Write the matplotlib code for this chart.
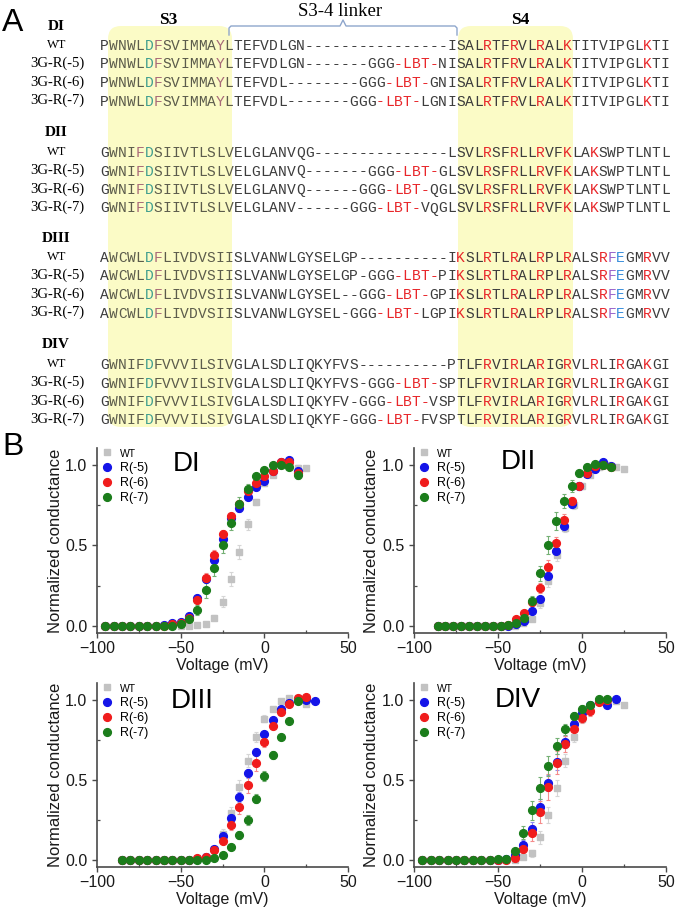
import matplotlib
matplotlib.use('Agg')
import matplotlib.pyplot as plt
from matplotlib.patches import FancyBboxPatch
from matplotlib.lines import Line2D
from matplotlib.ticker import MultipleLocator, FixedLocator, FormatStrFormatter

# ---------------- Panel A data ----------------
domains = ['DI', 'DII', 'DIII', 'DIV']
row_labels = ['WT', '3G-R(-5)', '3G-R(-6)', '3G-R(-7)']

seq_DI = [
    "PWNWLDFSVIMMAYLTEFVDLGN" + "-" * 16 + "ISALRTFRVLRALKTITVIPGLKTI",
    "PWNWLDFSVIMMAYLTEFVDLGN" + "-" * 7 + "GGG-LBT-NI" + "SALRTFRVLRALKTITVIPGLKTI",
    "PWNWLDFSVIMMAYLTEFVDL" + "-" * 8 + "GGG-LBT-GNI" + "SALRTFRVLRALKTITVIPGLKTI",
    "PWNWLDFSVIMMAYLTEFVDL" + "-" * 7 + "GGG-LBT-LGNI" + "SALRTFRVLRALKTITVIPGLKTI",
]
seq_DII = [
    "GWNIFDSIIVTLSLVELGLANVQG" + "-" * 15 + "LSVLRSFRLLRVFKLAKSWPTLNTL",
    "GWNIFDSIIVTLSLVELGLANVQ" + "-" * 7 + "GGG-LBT-G" + "LSVLRSFRLLRVFKLAKSWPTLNTL",
    "GWNIFDSIIVTLSLVELGLANVQ" + "-" * 6 + "GGG-LBT-QG" + "LSVLRSFRLLRVFKLAKSWPTLNTL",
    "GWNIFDSIIVTLSLVELGLANV" + "-" * 6 + "GGG-LBT-VQG" + "LSVLRSFRLLRVFKLAKSWPTLNTL",
]
seq_DIII = [
    "AWCWLDFLIVDVSIISLVANWLGYSELGP" + "-" * 10 + "IKSLRTLRALRPLRALSRFEGMRVV",
    "AWCWLDFLIVDVSIISLVANWLGYSELGP" + "-GGG-LBT-PI" + "KSLRTLRALRPLRALSRFEGMRVV",
    "AWCWLDFLIVDVSIISLVANWLGYSEL" + "--GGG-LBT-GPI" + "KSLRTLRALRPLRALSRFEGMRVV",
    "AWCWLDFLIVDVSIISLVANWLGYSEL" + "-GGG-LBT-LGPI" + "KSLRTLRALRPLRALSRFEGMRVV",
]
seq_DIV = [
    "GWNIFDFVVVILSIVGLALSDLIQKYFVS" + "-" * 10 + "PTLFRVIRLARIGRVLRLIRGAKGI",
    "GWNIFDFVVVILSIVGLALSDLIQKYFVS" + "-GGG-LBT-S" + "PTLFRVIRLARIGRVLRLIRGAKGI",
    "GWNIFDFVVVILSIVGLALSDLIQKYFV" + "-GGG-LBT-VS" + "PTLFRVIRLARIGRVLRLIRGAKGI",
    "GWNIFDFVVVILSIVGLALSDLIQKYF" + "-GGG-LBT-FVS" + "PTLFRVIRLARIGRVLRLIRGAKGI",
]
# highlighted residues (index -> kind)
marks_DI = {5: 'acid', 6: 'arom', 13: 'arom'}
marks_DII = {4: 'arom', 5: 'acid'}
marks_DIII = {5: 'acid', 6: 'arom', 57: 'purple', 58: 'blue'}
marks_DIV = {5: 'acid'}

# ---------------- Panel B data ----------------
# DI
V_DI = [-95, -90, -85, -80, -75, -70, -65, -60, -55, -50, -45, -40, -35, -30, -25,
        -20, -15, -10, -5, 0, 5, 10, 15, 20, 25]
wt_DI = [0, 0, 0, 0, 0, 0, 0, 0, 0, 0, 0.0, 0.005, 0.01, 0.05, 0.15, 0.29, 0.46, 0.63,
         0.77, 0.89, 0.94, 1.0, 1.01, 0.98, 0.98]
wt_DI_e = [0, 0, 0, 0, 0, 0, 0, 0, 0, 0, 0.005, 0.01, 0.01, 0.015, 0.035, 0.045, 0.045,
           0.035, 0.02, 0.02, 0.015, 0.01, 0.01, 0.02, 0.01]
r5_DI = [0, 0, 0, 0, 0, 0, 0, 0.005, 0.015, 0.025, 0.06, 0.17, 0.29, 0.41, 0.54, 0.67,
         0.73, 0.80, 0.865, 0.90, 0.96, 1.02, 1.03, 0.96]
r5_DI_e = [0, 0, 0, 0, 0, 0, 0, 0.005, 0.005, 0.01, 0.015, 0.02, 0.02, 0.02, 0.02, 0.02,
           0.02, 0.02, 0.02, 0.02, 0.015, 0.01, 0.01, 0.04]
r6_DI = [0, 0, 0, 0, 0, 0, 0, 0, 0.01, 0.02, 0.05, 0.16, 0.30, 0.44, 0.57, 0.68, 0.76,
         0.84, 0.89, 0.93, 0.96, 1.02, 1.02, 0.95]
r6_DI_e = [0, 0, 0, 0, 0, 0, 0, 0, 0.005, 0.01, 0.01, 0.02, 0.025, 0.03, 0.025, 0.02,
           0.02, 0.02, 0.02, 0.02, 0.015, 0.01, 0.01, 0.03]
r7_DI = [0, 0, 0, 0, 0, 0, 0, 0, 0, 0.01, 0.04, 0.10, 0.22, 0.36, 0.50, 0.64, 0.76,
         0.85, 0.93, 0.97, 1.00, 1.00, 0.99, 0.94]
r7_DI_e = [0, 0, 0, 0, 0, 0, 0, 0, 0, 0.005, 0.015, 0.03, 0.045, 0.05, 0.05, 0.045,
           0.04, 0.03, 0.02, 0.015, 0.01, 0.01, 0.01, 0.03]

# DII
Vwt_DII = [-85, -80, -75, -70, -65, -60, -55, -50, -45, -40, -35, -30, -25, -20, -15,
           -10, -5, 0, 5, 10, 15, 20, 25]
wt_DII = [0, 0, 0, 0, 0, 0, 0, 0, 0, 0, 0.02, 0.045, 0.14, 0.28, 0.44, 0.61, 0.75,
          0.87, 0.94, 0.985, 1.0, 0.99, 0.975]
wt_DII_e = [0, 0, 0, 0, 0, 0, 0, 0, 0, 0.005, 0.01, 0.015, 0.03, 0.04, 0.04, 0.03,
            0.025, 0.02, 0.015, 0.01, 0.01, 0.01, 0.01]
Vm_DII = [-86, -81.5, -76.5, -72, -67.5, -62.5, -58, -53, -48.5, -44, -39, -34.5, -30,
          -25, -20, -15.5, -11, -6, -1.5, 3, 8, 12.5, 17.5]
r5_DII = [0, 0, 0, 0, 0, 0, 0, 0, 0, 0.0, 0.009, 0.031, 0.09, 0.168, 0.307, 0.465,
          0.619, 0.756, 0.87, 0.945, 0.975, 1.016, 0.996]
r5_DII_e = [0, 0, 0, 0, 0, 0, 0, 0, 0, 0.005, 0.005, 0.01, 0.015, 0.02, 0.025, 0.03,
            0.03, 0.025, 0.025, 0.02, 0.015, 0.01, 0.01]
r6_DII = [0, 0, 0, 0, 0, 0, 0, 0, 0, 0.005, 0.045, 0.082, 0.148, 0.236, 0.367, 0.513,
          0.656, 0.773, 0.869, 0.947, 0.992, 1.0, 0.99]
r6_DII_e = [0, 0, 0, 0, 0, 0, 0, 0, 0, 0.005, 0.01, 0.015, 0.02, 0.03, 0.04, 0.04,
            0.04, 0.03, 0.02, 0.02, 0.01, 0.01, 0.01]
r7_DII = [0, 0, 0, 0, 0, 0, 0, 0, 0, 0.005, 0.02, 0.05, 0.154, 0.326, 0.50, 0.65,
          0.777, 0.869, 0.947, 0.988, 1.004, 1.0, 0.985]
r7_DII_e = [0, 0, 0, 0, 0, 0, 0, 0, 0, 0.005, 0.01, 0.015, 0.03, 0.045, 0.055, 0.055,
            0.045, 0.035, 0.02, 0.015, 0.01, 0.01, 0.01]

# DIII
V_DIII = [-85, -80, -75, -70, -65, -60, -55, -50, -45, -40, -35, -30, -25, -20, -15,
          -10, -5, 0, 5, 10, 15, 20, 25, 30]
wt_DIII = [0, 0, 0, 0, 0, 0, 0, 0, 0, 0, 0.02, 0.07, 0.16, 0.29, 0.458, 0.62, 0.768,
           0.882, 0.942, 0.99, 1.01, 1.01, 0.975]
wt_DIII_e = [0, 0, 0, 0, 0, 0, 0, 0, 0, 0, 0.01, 0.015, 0.03, 0.04, 0.04, 0.04, 0.03,
             0.02, 0.015, 0.01, 0.01, 0.01, 0.01]
r5_DIII = [0, 0, 0, 0, 0, 0, 0, 0, 0, 0.006, 0.02, 0.068, 0.151, 0.26, 0.393, 0.54,
           0.673, 0.787, 0.876, 0.942, 0.98, 1.0, 1.0, 0.99]
r5_DIII_e = [0, 0, 0, 0, 0, 0, 0, 0, 0, 0.005, 0.01, 0.015, 0.02, 0.025, 0.03, 0.03,
             0.025, 0.02, 0.015, 0.01, 0.01, 0.01, 0.01, 0.01]
r6_DIII = [0, 0, 0, 0, 0, 0, 0, 0, 0, 0.01, 0.02, 0.062, 0.12, 0.217, 0.333, 0.468,
           0.607, 0.737, 0.838, 0.921, 0.975, 1.01, 1.015]
r6_DIII_e = [0, 0, 0, 0, 0, 0, 0, 0, 0, 0.005, 0.01, 0.015, 0.02, 0.03, 0.045, 0.05,
             0.05, 0.035, 0.02, 0.015, 0.01, 0.01, 0.01]
r7_DIII = [0, 0, 0, 0, 0, 0, 0, 0, 0, 0, 0.0, 0.012, 0.027, 0.083, 0.155, 0.25, 0.383,
           0.524, 0.652, 0.766, 0.87, 0.994]
r7_DIII_e = [0, 0, 0, 0, 0, 0, 0, 0, 0, 0, 0.005, 0.01, 0.01, 0.015, 0.025, 0.03,
             0.03, 0.03, 0.025, 0.02, 0.015, 0.02]

# DIV
V_DIV = [-95, -90, -85, -80, -75, -70, -65, -60, -55, -50, -45, -40, -35, -30, -25,
         -20, -15, -10, -5, 0, 5, 10, 15, 20, 25]
wt_DIV = [0, 0, 0, 0, 0, 0, 0, 0, 0, 0, 0, 0.0, 0.015, 0.04, 0.14, 0.28, 0.45, 0.62,
          0.767, 0.88, 0.95, 0.99, 1.0, 0.99, 0.97]
wt_DIV_e = [0, 0, 0, 0, 0, 0, 0, 0, 0, 0, 0, 0.005, 0.01, 0.02, 0.04, 0.05, 0.05,
            0.04, 0.03, 0.02, 0.015, 0.01, 0.01, 0.01, 0.01]
r5_DIV = [0, 0, 0, 0, 0, 0, 0, 0, 0, 0, 0.005, 0.03, 0.095, 0.195, 0.33, 0.48, 0.61,
          0.736, 0.846, 0.92, 0.965, 0.99, 0.97, 1.006]
r5_DIV_e = [0, 0, 0, 0, 0, 0, 0, 0, 0, 0, 0.005, 0.01, 0.03, 0.04, 0.05, 0.05, 0.05,
            0.04, 0.03, 0.02, 0.015, 0.01, 0.01, 0.01]
r6_DIV = [0, 0, 0, 0, 0, 0, 0, 0, 0, 0, 0.0, 0.01, 0.07, 0.165, 0.30, 0.455, 0.607,
          0.725, 0.82, 0.885, 0.928, 0.986, 1.0]
r6_DIV_e = [0, 0, 0, 0, 0, 0, 0, 0, 0, 0, 0.005, 0.01, 0.03, 0.05, 0.07, 0.08, 0.07,
            0.05, 0.04, 0.03, 0.03, 0.02, 0.02]
r7_DIV = [0, 0, 0, 0, 0, 0, 0, 0, 0, 0.005, 0.008, 0.054, 0.17, 0.31, 0.45, 0.586,
          0.711, 0.815, 0.90, 0.945, 0.97, 1.006, 1.006]
r7_DIV_e = [0, 0, 0, 0, 0, 0, 0, 0, 0, 0.005, 0.005, 0.02, 0.04, 0.06, 0.07, 0.06,
            0.05, 0.035, 0.025, 0.02, 0.015, 0.01, 0.01]

series_labels = ['WT', 'R(-5)', 'R(-6)', 'R(-7)']

# ---------------- Figure ----------------
W, H = 677, 909
fig = plt.figure(figsize=(W / 100, H / 100), dpi=100)
fig.patch.set_facecolor('white')

ax0 = fig.add_axes([0, 0, 1, 1])
ax0.set_xlim(0, W)
ax0.set_ylim(H, 0)
ax0.axis('off')

SERIF = 'Liberation Serif'
SANS = 'Liberation Sans'
MONO = 'Liberation Mono'

# yellow highlight boxes (S3, S4)
for x0, x1 in [(108, 232), (458, 573)]:
    box = FancyBboxPatch((x0, 26), x1 - x0, 401,
                         boxstyle='round,pad=0,rounding_size=13',
                         facecolor='#fbfbc6', edgecolor='none', zorder=0)
    ax0.add_patch(box)

# headers
ax0.text(13, 23, 'A', family=SANS, size=23, ha='center', va='center')
ax0.text(13, 447, 'B', family=SANS, size=23, ha='center', va='center')
ax0.text(168, 20, 'S3', family=SERIF, weight='bold', size=12.5, ha='center', va='center')
ax0.text(520, 20, 'S4', family=SERIF, weight='bold', size=12.5, ha='center', va='center')
ax0.text(340, 12, 'S3-4 linker', family=SERIF, size=13.5, ha='center', va='center')
brx = [229, 229, 231, 340, 343, 346, 455, 457, 457]
bry = [35, 28, 26, 26, 20, 26, 26, 28, 35]
ax0.add_line(Line2D(brx, bry, color='#8ea6cc', lw=1.0))

CH_PITCH = 8.9
CH_X0 = 100
color_map = {'acid': '#3f9e8e', 'arom': '#a86a78', 'purple': '#9a66cc',
             'blue': '#3a8fdc'}
RED = '#e8262a'

all_seqs = [seq_DI, seq_DII, seq_DIII, seq_DIV]
all_marks = [marks_DI, marks_DII, marks_DIII, marks_DIV]
header_y = [26, 133, 238, 345]

for d, dom in enumerate(domains):
    hy = header_y[d]
    ax0.text(56, hy, dom, family=SERIF, weight='bold', size=11, ha='center', va='center')
    for r, lab in enumerate(row_labels):
        ry = hy + 19 + 18.5 * r
        ax0.text(57, ry, lab, family=SERIF, size=(9 if lab == 'WT' else 10.5),
                 ha='center', va='center')
        seq = all_seqs[d][r]
        k = seq.find('LBT')
        red_idx = set(range(k - 1, k + 4)) if k >= 0 else set()
        for i, ch in enumerate(seq):
            if i in red_idx:
                c = RED
            elif i in all_marks[d]:
                c = color_map[all_marks[d][i]]
            elif i >= 39 and ch in 'RK':
                c = RED
            elif 1 <= i <= 14:
                c = '#5c5c4c'
            else:
                c = '#3c3c3c'
            ax0.text(CH_X0 + CH_PITCH * (i + 0.5), ry + 5, ch, family=MONO, size=10.5,
                     ha='center', va='baseline', color=c)

# ---------------- Panel B ----------------
C_WT, C_B, C_R, C_G = '#c2c2c2', '#1414e8', '#f01c1c', '#1b7d1b'
E_WT, E_B, E_R, E_G = '#d6d6d6', '#8c8cf0', '#f48c8c', '#74b074'

panels = [
    ('DI', (97, 448, 348, 633), (V_DI, wt_DI, wt_DI_e), (V_DI, r5_DI, r5_DI_e),
     (V_DI, r6_DI, r6_DI_e), (V_DI, r7_DI, r7_DI_e), (0.303, 0.914)),
    ('DII', (414, 448, 666, 633), (Vwt_DII, wt_DII, wt_DII_e), (Vm_DII, r5_DII, r5_DII_e),
     (Vm_DII, r6_DII, r6_DII_e), (Vm_DII, r7_DII, r7_DII_e), (0.345, 0.924)),
    ('DIII', (97, 683, 348, 867), (V_DIII, wt_DIII, wt_DIII_e), (V_DIII, r5_DIII, r5_DIII_e),
     (V_DIII, r6_DIII, r6_DIII_e), (V_DIII, r7_DIII, r7_DIII_e), (0.295, 0.90)),
    ('DIV', (414, 683, 666, 867), (V_DIV, wt_DIV, wt_DIV_e), (V_DIV, r5_DIV, r5_DIV_e),
     (V_DIV, r6_DIV, r6_DIV_e), (V_DIV, r7_DIV, r7_DIV_e), (0.32, 0.908)),
]

styles = [('s', 4.6, C_WT, E_WT), ('o', 5.6, C_B, E_B), ('o', 5.6, C_R, E_R),
          ('o', 5.6, C_G, E_G)]

for title, (l, t, rr, b), swt, s5, s6, s7, tpos in panels:
    ax = fig.add_axes([l / W, 1 - b / H, (rr - l) / W, (b - t) / H])
    ax.set_xlim(-100, 50)
    ax.set_ylim(-0.045, 1.105)
    handles = []
    for (V, y, e), (mk, ms, c, ec), lab in zip([swt, s5, s6, s7], styles, series_labels):
        n = len(y)
        ax.errorbar(V[:n], y, yerr=e, fmt=mk, ms=ms, color=c, mec=c, mfc=c,
                    ecolor=ec, elinewidth=0.8, capsize=1.5, capthick=0.8, zorder=3)
        handles.append(Line2D([], [], marker=mk, ls='none', ms=ms, color=c, label=lab))
    for s in ['top', 'right']:
        ax.spines[s].set_visible(False)
    for s in ['left', 'bottom']:
        ax.spines[s].set_color('#4a4a4a')
        ax.spines[s].set_linewidth(1.2)
    ax.xaxis.set_major_locator(FixedLocator([-100, -50, 0, 50]))
    ax.xaxis.set_minor_locator(MultipleLocator(25))
    ax.yaxis.set_major_locator(FixedLocator([0, 0.5, 1.0]))
    ax.yaxis.set_minor_locator(MultipleLocator(0.25))
    ax.yaxis.set_major_formatter(FormatStrFormatter('%.1f'))
    ax.tick_params(which='major', direction='out', length=3.5, width=1.0,
                   color='#4a4a4a', labelsize=11.5, labelcolor='#1a1a1a')
    ax.tick_params(axis='x', which='major', pad=2.0)
    ax.tick_params(axis='y', which='major', pad=3.5)
    ax.tick_params(which='minor', direction='in', length=2.5, width=0.9, color='#4a4a4a')
    for lbl in ax.get_xticklabels() + ax.get_yticklabels():
        lbl.set_family(SANS)
    ax.set_xlabel('Voltage (mV)', family=SANS, size=11.5, color='#1a1a1a')
    ax.set_ylabel('Normalized conductance', family=SANS, size=12, color='#1a1a1a')
    ax.xaxis.set_label_coords(0.5, -0.178)
    ax.xaxis.label.set_va('center')
    ax.yaxis.set_label_coords(-0.167, 0.5)
    ax.yaxis.label.set_va('center')
    ax.text(tpos[0], tpos[1], title, transform=ax.transAxes, family=SANS, size=20,
            ha='left', va='center')
    leg = ax.legend(handles=handles, loc='upper left', bbox_to_anchor=(0.02, 1.0),
                    frameon=False, fontsize=9, handlelength=0.8, handletextpad=0.6,
                    labelspacing=0.25, borderpad=0, borderaxespad=0)
    for txt in leg.get_texts():
        txt.set_family(SANS)
        if txt.get_text() == 'WT':
            txt.set_fontsize(7.5)

fig.savefig('out.png', dpi=100)
